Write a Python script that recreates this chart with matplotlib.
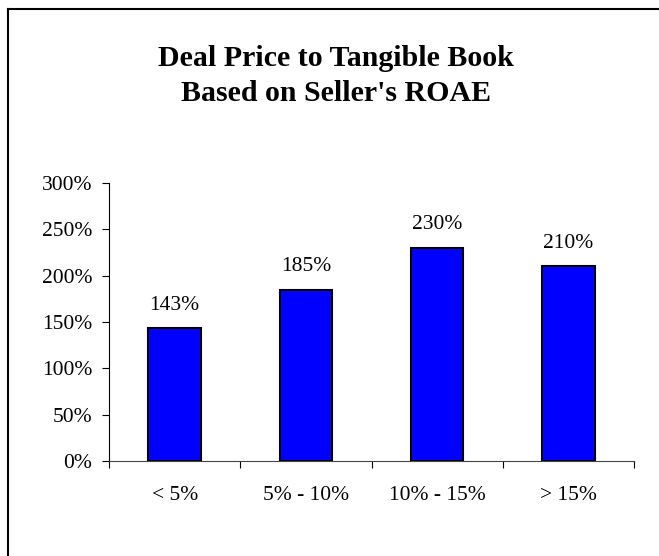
import numpy as np
import matplotlib.pyplot as plt
from matplotlib.lines import Line2D
from matplotlib.ticker import FuncFormatter

# data
categories = ['< 5%', '5% - 10%', '10% - 15%', '> 15%']
values = [1.43, 1.85, 2.30, 2.10]
value_labels = ['143%', '185%', '230%', '210%']

plt.rcParams['font.family'] = ['Liberation Serif', 'DejaVu Serif']

fig = plt.figure(figsize=(6.59, 5.56), dpi=100)
ax = fig.add_axes([109 / 659, 1 - 461 / 556, 525 / 659, 278 / 556])

x = np.arange(len(categories))
bars = ax.bar(x, values, width=0.4, color='#0000FF', edgecolor='black', linewidth=1.5, zorder=3)

for xi, v, lab in zip(x, values, value_labels):
    ax.annotate(lab, (xi, v), xytext=(0, 10), textcoords='offset points',
                ha='center', va='bottom', fontsize=15.5)

ax.set_xlim(-0.5, len(categories) - 0.5)
ax.set_ylim(0, 3)
ax.set_yticks(np.arange(0, 3.01, 0.5))
ax.yaxis.set_major_formatter(FuncFormatter(lambda v, p: f'{v * 100:.0f}%'))
ax.tick_params(axis='y', direction='out', length=5, width=0.8, pad=7, labelsize=15.5)

ax.set_xticks(x)
ax.set_xticklabels(categories)
ax.tick_params(axis='x', which='major', length=0, pad=18, labelsize=15.5)
ax.set_xticks(np.arange(-0.5, len(categories)), minor=True)
ax.tick_params(axis='x', which='minor', direction='out', length=5, width=0.8)

for s in ['top', 'right']:
    ax.spines[s].set_visible(False)
ax.spines['left'].set_linewidth(0.8)
ax.spines['bottom'].set_linewidth(0.8)
ax.spines['bottom'].set_color('#444444')

fig.text(336 / 659, 1 - 76 / 556, 'Deal Price to Tangible Book\nBased on Seller\'s ROAE',
         ha='center', va='center', fontsize=21.5, fontweight='bold', linespacing=1.42)

# frame lines (left and top only)
fig.add_artist(Line2D([8 / 659, 8 / 659], [0, 1 - 9 / 556], transform=fig.transFigure, color='black', lw=1.5))
fig.add_artist(Line2D([8 / 659, 1], [1 - 9 / 556, 1 - 9 / 556], transform=fig.transFigure, color='black', lw=1.5))

fig.savefig('out.png', dpi=100)
